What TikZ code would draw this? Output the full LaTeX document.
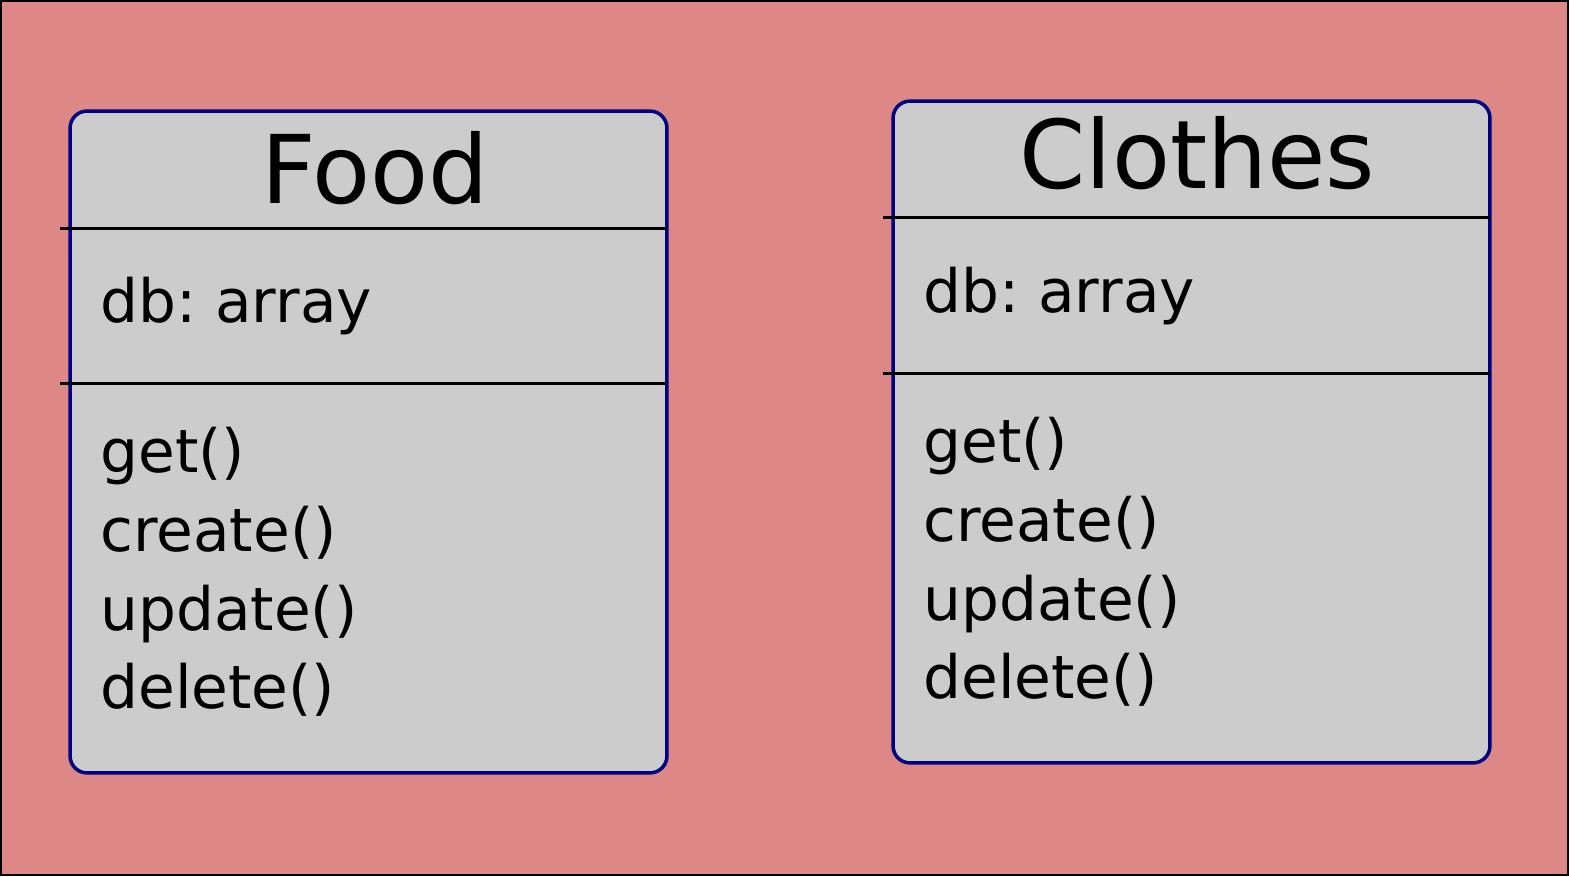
\documentclass[tikz,border=0pt]{standalone}
\usepackage{fontspec}
\setmainfont{DejaVu Sans}
\frenchspacing
\begin{document}
\begin{tikzpicture}[x=0.02cm,y=-0.02cm,
  classbox/.style={shape=rectangle,draw=classborder,fill=classfill,line width=0.07cm,rounded corners=0.34cm,minimum width=11.94cm,minimum height=13.24cm,inner sep=0pt},
  sepline/.style={line width=0.06cm},
  classtitle/.style={anchor=base,inner sep=0pt,font=\fontsize{54}{65}\selectfont},
  member/.style={anchor=base west,inner sep=0pt,font=\fontsize{34}{41}\selectfont}]
\definecolor{diagrambg}{RGB}{222,135,135}
\definecolor{classfill}{RGB}{204,204,204}
\definecolor{classborder}{RGB}{0,0,128}
\useasboundingbox (0,0) rectangle (1569,876);
\draw[fill=diagrambg,line width=0.04cm] (1,1) rectangle (1568,875);

% class boxes
\node[classbox] (food) at (368.5,442) {};
\node[classbox] (clothes) at (1191.5,432) {};

\draw[sepline] ([xshift=-0.16cm]food.west |- 0,228) -- ([xshift=-0.04cm]food.east |- 0,228);
\draw[sepline] ([xshift=-0.16cm]food.west |- 0,383) -- ([xshift=-0.04cm]food.east |- 0,383);
\draw[sepline] ([xshift=-0.16cm]clothes.west |- 0,217) -- ([xshift=-0.04cm]clothes.east |- 0,217);
\draw[sepline] ([xshift=-0.16cm]clothes.west |- 0,373) -- ([xshift=-0.04cm]clothes.east |- 0,373);

% Food
\node[classtitle] (foodname) at (375,203) {Food};
\node[member] (fooddb) at (100,322) {db: array};
\node[member] (foodget) at (100,472) {get()};
\node[member] (foodcreate) at (100,551) {create()};
\node[member] (foodupdate) at (100,630) {update()};
\node[member] (fooddelete) at (100,708) {delete()};

% Clothes
\node[classtitle] (clothesname) at (1197.5,188) {Clothes};
\node[member] (clothesdb) at (923,312) {db: array};
\node[member] (clothesget) at (923,462) {get()};
\node[member] (clothescreate) at (923,541) {create()};
\node[member] (clothesupdate) at (923,620) {update()};
\node[member] (clothesdelete) at (923,698) {delete()};
\end{tikzpicture}
\end{document}
